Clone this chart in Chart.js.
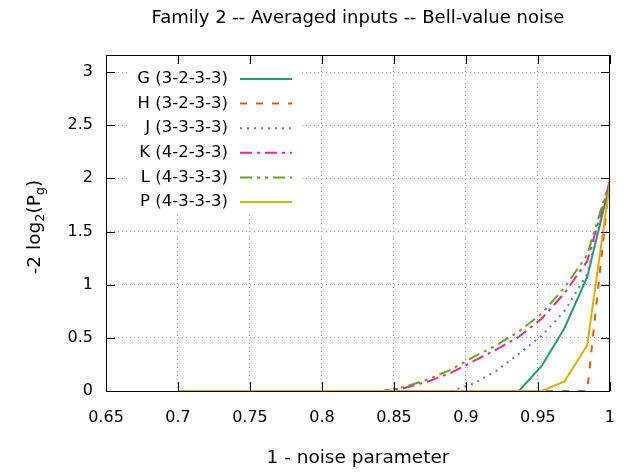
<!DOCTYPE html>
<html>
<head>
<meta charset="utf-8">
<script src="https://cdn.jsdelivr.net/npm/chart.js@4/dist/chart.umd.min.js"></script>
<style>
html,body{margin:0;padding:0;background:#fff;}
#wrap{width:632px;height:472px;position:relative;}
</style>
</head>
<body>
<div id="wrap"><canvas id="c"></canvas></div>
<script>
const xValues = [0.7, 0.7158, 0.7316, 0.7474, 0.7632, 0.7789, 0.7947, 0.8105, 0.8263, 0.8421,
                 0.8579, 0.8737, 0.8895, 0.9053, 0.9211, 0.9368, 0.9526, 0.9684, 0.9842, 1.0];
const seriesNames = ["G (3-2-3-3)", "H (3-2-3-3)", "J (3-3-3-3)", "K (4-2-3-3)", "L (4-3-3-3)", "P (4-3-3-3)"];
const G = [0,0,0,0,0,0,0,0,0,0, 0,0,0,0,0,0, 0.235,0.59,1.07,1.95];
const H = [0,0,0,0,0,0,0,0,0,0, 0,0,0,0,0,0, 0,0,0,2.0];
const J = [0,0,0,0,0,0,0,0,0,0, 0,0,0,0.07,0.19,0.35,0.52,0.75,1.1,1.96];
const K = [0,0,0,0,0,0,0,0,0,0, 0.03,0.09,0.17,0.28,0.39,0.51,0.68,0.92,1.22,1.97];
const L = [0,0,0,0,0,0,0,0,0,0, 0.04,0.11,0.2,0.32,0.43,0.56,0.73,0.97,1.28,1.98];
const P = [0,0,0,0,0,0,0,0,0,0, 0,0,0,0,0,0,0,0.09,0.43,1.96];
const xTicks = [0.65, 0.7, 0.75, 0.8, 0.85, 0.9, 0.95, 1];
const yTicks = [0, 0.5, 1, 1.5, 2, 2.5, 3];
const titleText = "Family 2 -- Averaged inputs -- Bell-value noise";
const xTitle = "1 - noise parameter";

const colors = ["#1b9e77", "#d95f02", "#7570b3", "#e7298a", "#66a61e", "#e6ab02"];
const dashes = [[], [7, 9], [2, 5], [12, 5, 3, 5], [12, 5, 3, 5, 3, 5], []];
const allSeries = [G, H, J, K, L, P];
const FONT = "'DejaVu Sans', sans-serif";

const datasets = allSeries.map((s, i) => ({
  label: seriesNames[i],
  data: s.map((v, k) => ({x: xValues[k], y: v})),
  borderColor: colors[i],
  backgroundColor: colors[i],
  borderDash: dashes[i],
  borderWidth: 2,
  pointRadius: 0,
  fill: false,
  tension: 0,
  order: allSeries.length - i
}));

const decor = {
  id: 'decor',
  afterDatasetsDraw(chart) {
    const ctx = chart.ctx;
    const a = chart.chartArea;
    const xs = chart.scales.x, ys = chart.scales.y;
    ctx.save();
    // legend box (opaque)
    ctx.fillStyle = '#fff';
    ctx.fillRect(128, 65, 174, 148);
    ctx.font = "16.5px " + FONT;
    ctx.textAlign = 'right';
    ctx.textBaseline = 'middle';
    chart.data.datasets.forEach((d, i) => {
      const y = 79 + i * 24.6;
      ctx.fillStyle = '#000';
      ctx.fillText(d.label, 228, y);
      ctx.strokeStyle = d.borderColor;
      ctx.lineWidth = 2;
      ctx.setLineDash(d.borderDash);
      ctx.beginPath();
      ctx.moveTo(240, y);
      ctx.lineTo(292, y);
      ctx.stroke();
    });
    ctx.setLineDash([]);
    // frame
    ctx.strokeStyle = '#000';
    ctx.lineWidth = 1;
    ctx.strokeRect(Math.round(a.left) + 0.5, Math.round(a.top) + 0.5, Math.round(a.right - a.left) - 1, Math.round(a.bottom - a.top));
    // inner ticks
    ctx.beginPath();
    yTicks.forEach(v => {
      const y = Math.round(ys.getPixelForValue(v)) + 0.5;
      ctx.moveTo(a.left, y); ctx.lineTo(a.left + 9, y);
      ctx.moveTo(a.right, y); ctx.lineTo(a.right - 9, y);
    });
    xTicks.forEach(v => {
      const x = Math.round(xs.getPixelForValue(v)) + 0.5;
      ctx.moveTo(x, a.bottom); ctx.lineTo(x, a.bottom - 9);
      ctx.moveTo(x, a.top); ctx.lineTo(x, a.top + 9);
    });
    ctx.stroke();
    // title
    ctx.fillStyle = '#000';
    ctx.textAlign = 'center';
    ctx.textBaseline = 'middle';
    ctx.font = "18px " + FONT;
    ctx.fillText(titleText, (a.left + a.right) / 2, 18);
    // x title
    ctx.font = "18.5px " + FONT;
    ctx.fillText(xTitle, (a.left + a.right) / 2, 458);
    // y title with subscripts
    ctx.translate(34, (a.top + a.bottom) / 2 + 4);
    ctx.rotate(-Math.PI / 2);
    const parts = [["-2 log", false], ["2", true], ["(P", false], ["g", true], [")", false]];
    const big = "18.5px " + FONT, small = "13px " + FONT;
    let total = 0;
    parts.forEach(p => { ctx.font = p[1] ? small : big; total += ctx.measureText(p[0]).width; });
    let x = -total / 2;
    ctx.textAlign = 'left';
    ctx.textBaseline = 'alphabetic';
    parts.forEach(p => {
      ctx.font = p[1] ? small : big;
      ctx.fillText(p[0], x, p[1] ? 10 : 6);
      x += ctx.measureText(p[0]).width;
    });
    ctx.restore();
  }
};

new Chart(document.getElementById('c'), {
  type: 'line',
  data: { datasets },
  options: {
    responsive: true,
    maintainAspectRatio: false,
    animation: false,
    layout: { padding: { left: 0, right: 22, top: 55, bottom: 0 } },
    plugins: { legend: { display: false }, tooltip: { enabled: false }, title: { display: false } },
    scales: {
      x: {
        type: 'linear', min: 0.65, max: 1,
        afterFit(s) { s.height = 81; },
        afterBuildTicks(s) { s.ticks = xTicks.map(v => ({value: v})); },
        grid: { color: '#a8a8a8', lineWidth: 1, drawTicks: false },
        border: { display: false, dash: [1, 3] },
        ticks: {
          padding: 17, color: '#000', font: { family: FONT, size: 16 },
          maxRotation: 0, autoSkip: false,
          callback: v => String(Number(v.toFixed(2)))
        }
      },
      y: {
        type: 'linear', min: 0, max: 3.16,
        afterFit(s) { s.width = 106; },
        afterBuildTicks(s) { s.ticks = yTicks.map(v => ({value: v})); },
        grid: { color: '#a8a8a8', lineWidth: 1, drawTicks: false },
        border: { display: false, dash: [1, 3] },
        ticks: {
          padding: 13, color: '#000', font: { family: FONT, size: 16 },
          autoSkip: false,
          callback: v => String(Number(v.toFixed(2)))
        }
      }
    }
  },
  plugins: [decor]
});
</script>
</body>
</html>
